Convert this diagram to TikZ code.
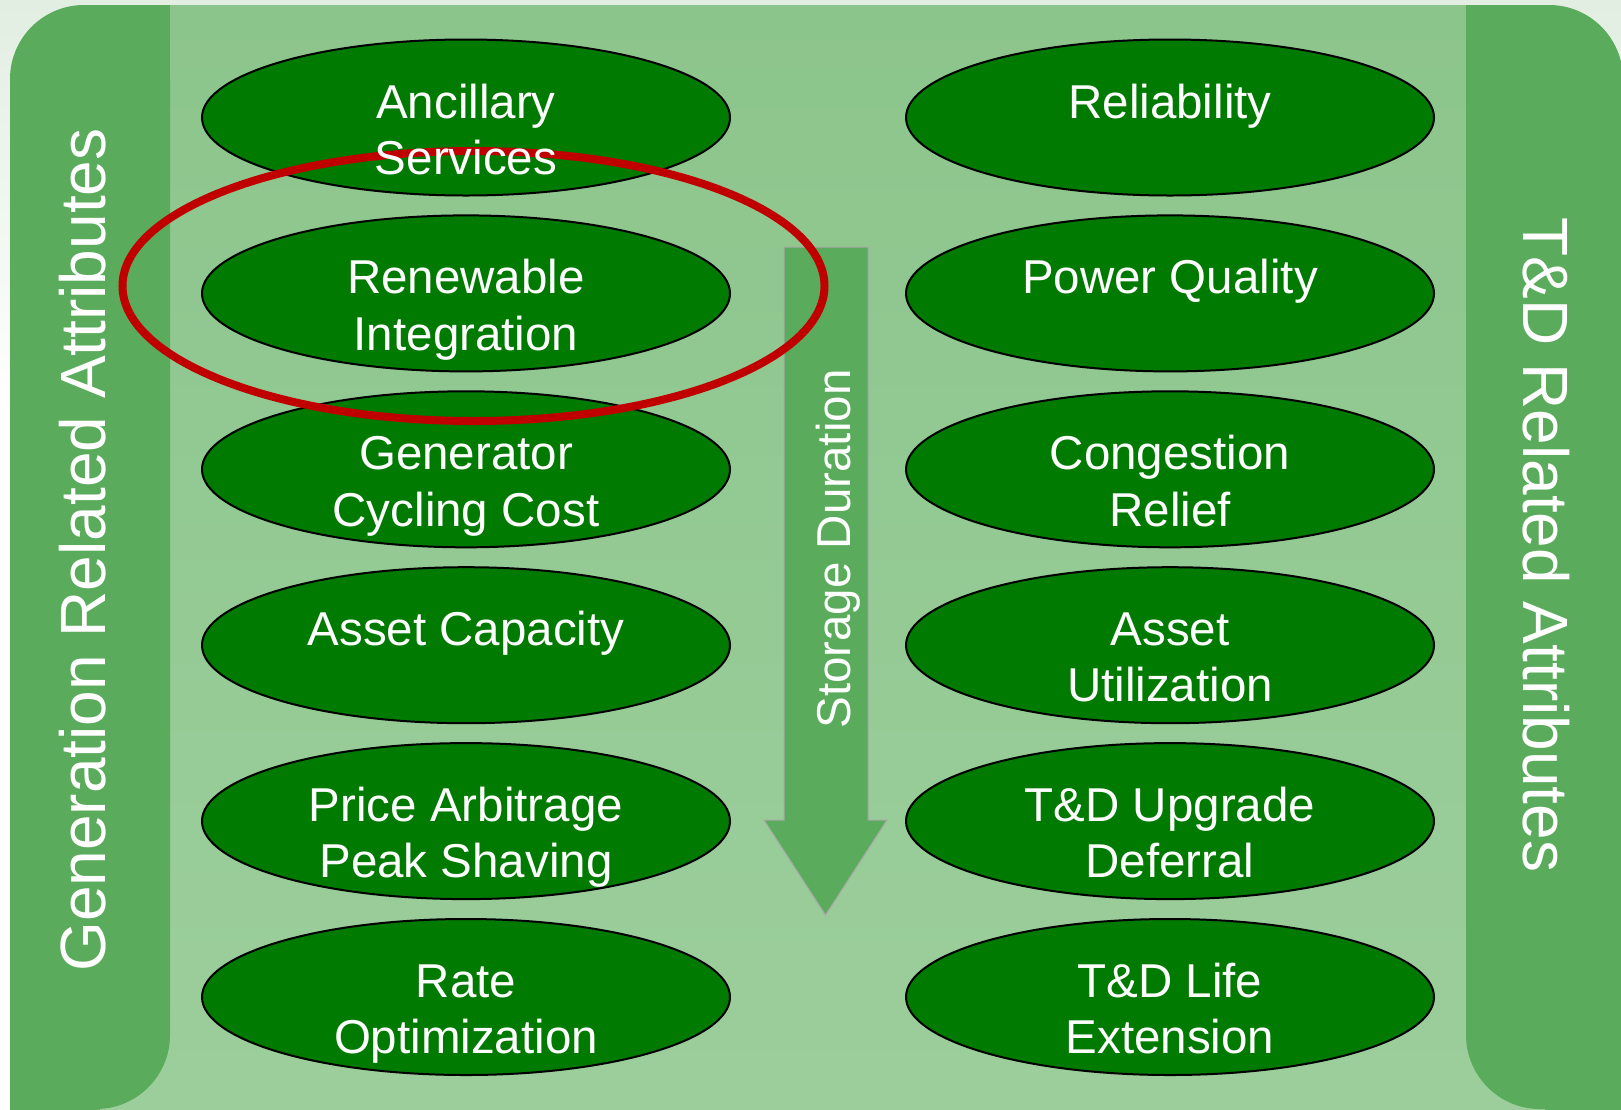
\documentclass[tikz,border=0pt]{standalone}
\usepackage{fontspec}
\setmainfont{Liberation Sans}
\usetikzlibrary{shapes.geometric}

\definecolor{panelgreen}{HTML}{5AAB5B}
\definecolor{bandtop}{HTML}{8CC58C}
\definecolor{bandbot}{HTML}{9CCE9C}
\definecolor{ovalgreen}{HTML}{007A00}
\definecolor{ringred}{HTML}{C00000}
\definecolor{haze}{HTML}{E2EEE2}
\definecolor{arrowedge}{HTML}{A8A8A8}

% two centred lines, anchored on the baseline of the first line
\newcommand{\twolines}[2]{\begin{tabular}[t]{@{}c@{}}#1\\#2\end{tabular}}

\begin{document}
\begin{tikzpicture}[x=1pt,y=-1pt,
  attr/.style={ellipse, draw=black, line width=2pt, fill=ovalgreen,
    minimum width=528pt, minimum height=156pt, inner sep=0pt},
  lbl/.style={text=white, inner sep=0pt, anchor=base,
    font=\fontsize{47.5}{56.5}\selectfont},
  sidelbl/.style={text=white, inner sep=0pt, anchor=base,
    font=\fontsize{64}{74}\selectfont},
  ring/.style={ellipse, draw=ringred, line width=8pt, inner sep=0pt,
    minimum width=702pt, minimum height=270pt}]

\useasboundingbox (0,0) rectangle (1621,1109);

% backdrop
\fill[white] (0,0) rectangle (1621,1109);
\fill[top color=haze, bottom color=white] (0,0) rectangle (1621,420);

% central band
\fill[top color=bandtop, bottom color=bandbot] (90,5) rectangle (1545,1112);

% generation panel: rounded top-left and bottom-right
\fill[panelgreen, rounded corners=74pt] (10,5) rectangle (170,1109);
\fill[panelgreen] (100,5) rectangle (170,100);
\fill[panelgreen] (10,1000) rectangle (100,1112);

% T&D panel: rounded top-right and bottom-left
\fill[panelgreen, rounded corners=74pt] (1466,5) rectangle (1623,1109);
\fill[panelgreen] (1466,5) rectangle (1545,100);
\fill[panelgreen] (1545,1000) rectangle (1625,1112);

% storage-duration arrow
\draw[fill=panelgreen, draw=arrowedge, line width=1pt]
  (784,247) -- (868,247) -- (868,820) -- (887,820) -- (825.5,915)
  -- (764,820) -- (784,820) -- cycle;

% generation related attributes
\node[attr] (g1) at (466,117.5) {};
\node[attr] (g2) at (466,293.4) {};
\node[attr] (g3) at (466,469.3) {};
\node[attr] (g4) at (466,645.2) {};
\node[attr] (g5) at (466,821.1) {};
\node[attr] (g6) at (466,997.0) {};

% T&D related attributes
\node[attr] (t1) at (1170,117.5) {};
\node[attr] (t2) at (1170,293.4) {};
\node[attr] (t3) at (1170,469.3) {};
\node[attr] (t4) at (1170,645.2) {};
\node[attr] (t5) at (1170,821.1) {};
\node[attr] (t6) at (1170,997.0) {};

% highlight ring around renewable integration
\node[ring] (hl) at (473.5,286) {};

% labels
\node[lbl] (g1t) at (466,118) {\twolines{Ancillary}{Services}};
\node[lbl] (g2t) at (466,293.7) {\twolines{Renewable}{Integration}};
\node[lbl] (g3t) at (466,469.5) {\twolines{Generator}{Cycling Cost}};
\node[lbl] (g4t) at (466,645.3) {Asset Capacity};
\node[lbl] (g5t) at (466,821.3) {\twolines{Price Arbitrage}{Peak Shaving}};
\node[lbl] (g6t) at (466,997.2) {\twolines{Rate}{Optimization}};

\node[lbl] (t1t) at (1170,118) {Reliability};
\node[lbl] (t2t) at (1170,293.7) {Power Quality};
\node[lbl] (t3t) at (1170,469.5) {\twolines{Congestion}{Relief}};
\node[lbl] (t4t) at (1170,645.3) {\twolines{Asset}{Utilization}};
\node[lbl] (t5t) at (1170,821.3) {\twolines{T\&D Upgrade}{Deferral}};
\node[lbl] (t6t) at (1170,997.2) {\twolines{T\&D Life}{Extension}};

\node[lbl, rotate=90] (dur) at (850,549) {Storage Duration};

\node[sidelbl, rotate=90] (genlbl) at (105,550) {Generation Related Attributes};
\node[sidelbl, rotate=-90] (tdlbl) at (1523,545) {T\&D Related Attributes};

\end{tikzpicture}
\end{document}
